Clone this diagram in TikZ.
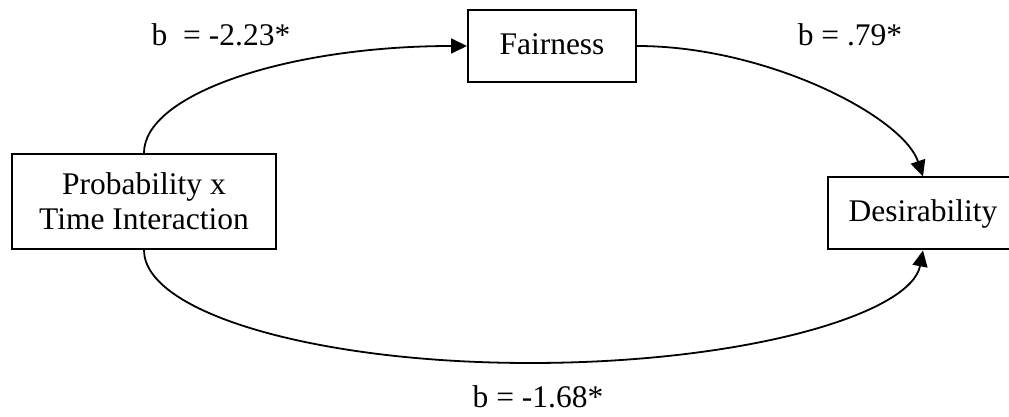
\documentclass[tikz,border=0pt]{standalone}
\usepackage{fontspec}
\setmainfont{Liberation Serif}
\usetikzlibrary{arrows.meta}
\begin{document}
\begin{tikzpicture}[x=0.5pt,y=-0.5pt,
  box/.style={draw, line width=1pt, inner sep=0pt, align=center,
    font=\fontsize{15.75}{17.5}\selectfont},
  conn/.style={line width=0.9pt, -{Triangle[length=8pt,width=7.5pt]}},
  lbl/.style={anchor=base, inner sep=0pt, font=\fontsize{15.75}{17.5}\selectfont}]
\clip (0,0) rectangle (1009,417);
\node[box, minimum width=132pt, minimum height=47.5pt] (P) at (144,201.5) {\raisebox{-1.5pt}{Probability x}\\\raisebox{-1.5pt}{Time Interaction}};
\node[box, minimum width=84pt, minimum height=36pt] (F) at (552,46) {\raisebox{2pt}{Fairness}};
\node[box, minimum width=95pt, minimum height=36pt] (D) at (923,213.5) {\raisebox{1pt}{Desirability}};
\coordinate (bot) at (530,363);
\draw[conn] (P.north) .. controls +(0,-59) and +(-179,0) .. (F.west);
\draw[conn] (F.east) .. controls +(130,0) and +(-20,-60) .. (D.north);
\draw[conn] (P.south) .. controls +(0,63) and +(-213,0) .. (bot) .. controls +(217,0) and +(-12,63) .. (D.south);
\node[lbl] (l1) at (221,46) {b\ \ = -2.23*};
\node[lbl] (l2) at (850,46) {b = .79*};
\node[lbl] (l3) at (538,408) {b = -1.68*};
\end{tikzpicture}
\end{document}
